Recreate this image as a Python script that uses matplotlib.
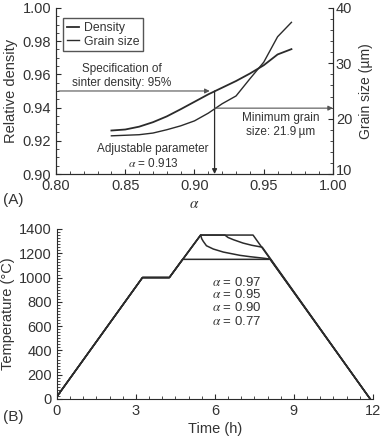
#sintering plot: density / grain size vs alpha (A) and heating schedules (B)

import matplotlib
matplotlib.use("Agg")
import matplotlib.pyplot as plt
import matplotlib.transforms as mtrans
from matplotlib.ticker import MultipleLocator

plt.rcParams['font.family'] = ['Liberation Sans', 'DejaVu Sans']
plt.rcParams['mathtext.fontset'] = 'stix'

#panel A data
alpha = [0.84, 0.85, 0.86, 0.87, 0.88, 0.89, 0.90, 0.91, 0.92, 0.93, 0.94, 0.95, 0.96, 0.97]
density = [0.9262, 0.9268, 0.9285, 0.9312, 0.9347, 0.9390, 0.9435, 0.9480,
           0.9520, 0.9560, 0.9605, 0.9655, 0.9720, 0.9752]
grain = [16.9, 17.0, 17.1, 17.4, 18.0, 18.7, 19.6, 21.0, 22.7, 24.1, 27.2, 30.2, 34.8, 37.4]

spec_density = 0.95
alpha_opt = 0.913
min_grain = 21.9

#panel B data (time h, temperature C)
sched_labels = ["0.97", "0.95", "0.90", "0.77"]
t_097 = [0, 3.25, 4.27, 5.46, 7.45, 11.9]
T_097 = [20, 1000, 1000, 1350, 1350, 0]
t_095 = [0, 3.25, 4.27, 5.46, 6.38, 6.5, 6.70, 7.07, 7.40, 7.80, 11.9]
T_095 = [20, 1000, 1000, 1350, 1350, 1330, 1312, 1284, 1266, 1250, 0]
t_090 = [0, 3.25, 4.27, 5.46, 5.50, 5.56, 5.68, 5.94, 6.32, 6.95, 7.33, 7.83, 8.10, 11.9]
T_090 = [20, 1000, 1000, 1350, 1320, 1298, 1262, 1235, 1210, 1183, 1172, 1160, 1152, 0]
t_077 = [0, 3.25, 4.27, 4.77, 8.10, 11.9]
T_077 = [20, 1000, 1000, 1150, 1150, 0]

lc = "#2b2b2b"
tc = "#333333"
ac = "#555555"

fig = plt.figure(figsize=(3.82, 4.37), dpi=100)

#---- panel A
ax = fig.add_axes([0.1466, 0.6018, 0.7251, 0.38])
ax.plot(alpha, density, color=lc, lw=1.3, label="Density")
ax2 = ax.twinx()
ax2.plot(alpha, grain, color=lc, lw=1.0)
ax.plot([], [], color=lc, lw=1.0, label="Grain size")

ax.set_xlim(0.80, 1.00)
ax.set_ylim(0.90, 1.00)
ax2.set_ylim(10, 40)
ax.set_xticks([0.80, 0.85, 0.90, 0.95, 1.00])
ax.set_yticks([0.90, 0.92, 0.94, 0.96, 0.98, 1.00])
ax2.set_yticks([10, 20, 30, 40])
ax.xaxis.set_minor_locator(MultipleLocator(0.01))
ax.yaxis.set_minor_locator(MultipleLocator(0.005))
ax2.yaxis.set_minor_locator(MultipleLocator(2))
ax.xaxis.set_major_formatter(plt.FuncFormatter(lambda v, p: "%.2f" % v))
ax.yaxis.set_major_formatter(plt.FuncFormatter(lambda v, p: "%.2f" % v))

for a in (ax, ax2):
    a.spines['top'].set_visible(False)
    for s in a.spines.values():
        s.set_color(lc)
    a.tick_params(which='both', direction='in', colors=lc, labelcolor=tc,
                  labelsize=10.5, top=False)
    a.tick_params(which='major', length=3.5)
    a.tick_params(which='minor', length=2)
ax2.tick_params(axis='y', pad=2)

#nudge the lowest right label up a little so it clears "1.00"
lab10 = ax2.get_yticklabels()[0]
lab10.set_transform(lab10.get_transform() + mtrans.ScaledTranslation(0, 3 / 72, fig.dpi_scale_trans))

ax.set_ylabel("Relative density", fontsize=10.5, color=tc, labelpad=3)
ax.set_xlabel(r"$\alpha$", fontsize=11, color=tc, labelpad=3)
ax2.set_ylabel("Grain size (\u00b5m)", fontsize=10, color=tc, labelpad=5)

leg = ax.legend(loc='upper left', fontsize=8.8, frameon=True, fancybox=False,
                handlelength=1.0, handletextpad=0.4, borderpad=0.3,
                labelspacing=0.15, bbox_to_anchor=(0.005, 0.975))
leg.get_frame().set_edgecolor(lc)
leg.get_frame().set_linewidth(1.0)
for t in leg.get_texts():
    t.set_color(tc)

#arrows
ax.annotate("", xy=(alpha_opt, spec_density), xytext=(0.80, spec_density),
            arrowprops=dict(arrowstyle='-|>', color=ac, lw=0.8, mutation_scale=7))
ax.annotate("", xy=(alpha_opt + 0.0015, 0.90), xytext=(alpha_opt + 0.0015, spec_density),
            arrowprops=dict(arrowstyle='-|>', color=lc, lw=0.9, mutation_scale=7,
                            shrinkA=0, shrinkB=0))
ax2.annotate("", xy=(1.0, min_grain), xytext=(alpha_opt + 0.0015, min_grain),
             arrowprops=dict(arrowstyle='-|>', color=ac, lw=0.8, mutation_scale=7,
                             shrinkA=0, shrinkB=0))

ax.text(0.8477, 0.9592, "Specification of\nsinter density: 95%", fontsize=8.5,
        color=tc, ha='center', va='center', linespacing=1.2)
ax.text(0.962, 0.9295, "Minimum grain\nsize: 21.9\u2009\u00b5m", fontsize=8.5,
        color=tc, ha='center', va='center', linespacing=1.2)
ax.text(0.870, 0.9105, "Adjustable parameter\n" + r"$\alpha$ = 0.913", fontsize=8.5,
        color=tc, ha='center', va='center', linespacing=1.2)

fig.text(0.008, 0.543, "(A)", fontsize=11, color=tc, va='center')

#---- panel B
bx = fig.add_axes([0.149, 0.087, 0.827, 0.389])
for tt, TT in [(t_097, T_097), (t_095, T_095), (t_090, T_090), (t_077, T_077)]:
    bx.plot(tt, TT, color=lc, lw=1.1)

bx.set_xlim(0, 12)
bx.set_ylim(0, 1400)
bx.set_xticks([0, 3, 6, 9, 12])
bx.set_yticks([0, 200, 400, 600, 800, 1000, 1200, 1400])
bx.xaxis.set_minor_locator(MultipleLocator(0.5))
bx.yaxis.set_minor_locator(MultipleLocator(25))
bx.spines['top'].set_visible(False)
bx.spines['right'].set_visible(False)
for s in bx.spines.values():
    s.set_color(lc)
bx.tick_params(which='both', direction='in', colors=lc, labelcolor=tc, labelsize=10.5)
bx.tick_params(which='major', length=3.5)
bx.tick_params(which='minor', length=2)
bx.set_xlabel("Time (h)", fontsize=10.5, color=tc, labelpad=3)
bx.set_ylabel("Temperature (\u00b0C)", fontsize=10.5, color=tc, labelpad=3)

label_T = [960, 860, 756, 640]
for lab, yy in zip(sched_labels, label_T):
    bx.text(5.9, yy, r"$\alpha$ = " + lab, fontsize=9.5, color=tc, ha='left', va='center')

fig.text(0.008, 0.045, "(B)", fontsize=11, color=tc, va='center')

plt.savefig("out.png", dpi=100)
